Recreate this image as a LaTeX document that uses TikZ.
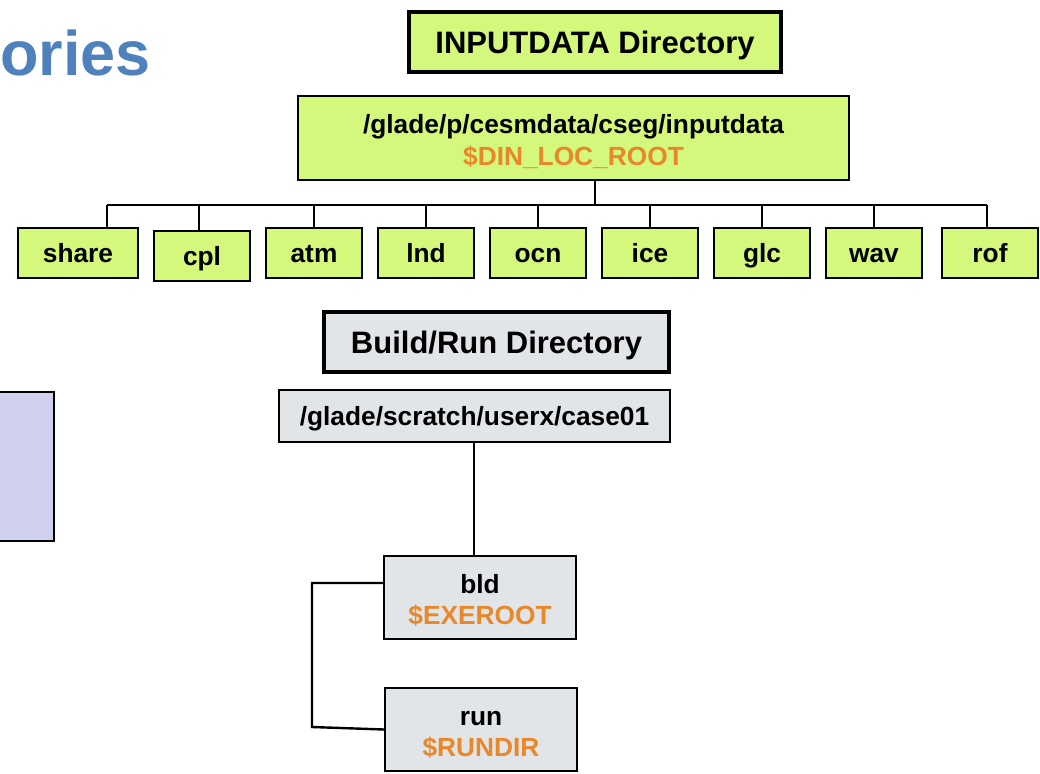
\documentclass[tikz,border=0pt]{standalone}
\usepackage{fontspec}
\setmainfont{Liberation Sans}
\begin{document}
\begin{tikzpicture}[x=1pt,y=-1pt,
  every node/.style={font=\bfseries},
  title/.style={draw=black,line width=4pt,minimum height=60pt,inner sep=0pt,text depth=0pt,font=\fontsize{31}{37}\selectfont\bfseries},
  pathbox/.style={draw=black,line width=2.2pt,inner sep=0pt,align=center,font=\fontsize{26.3}{31.5}\selectfont\bfseries},
  twoline/.style={pathbox,text height=54pt,text depth=0pt},
  sub/.style={draw=black,line width=2.2pt,minimum width=96pt,minimum height=50pt,inner sep=0pt,fill=leaf,text height=19pt,text depth=0pt,font=\fontsize{26.3}{31}\selectfont\bfseries},
  wire/.style={draw=black,line width=2.4pt}]
\definecolor{leaf}{HTML}{D4F87C}
\definecolor{ash}{HTML}{E2E5E7}
\definecolor{amber}{HTML}{E8882A}
\definecolor{steel}{HTML}{4F81BD}
\definecolor{lilac}{HTML}{D0D1EF}
\useasboundingbox (0,0) rectangle (1040,773);

% heading fragment at the top left
\node[anchor=base west,inner sep=0pt,text=steel,font=\fontsize{63}{72}\selectfont\bfseries] (head) at (0,76) {ories};

% panel partly outside the left edge
\draw[fill=lilac,line width=2pt] (-10,392) rectangle (54,541);

% input data tree
\node[title,fill=leaf,minimum width=372pt] (indir) at (595,42) {INPUTDATA Directory};
\node[twoline,fill=leaf,minimum width=551pt,minimum height=84pt] (inroot) at (573.5,138)
  {/glade/p/cesmdata/cseg/inputdata\\\textcolor{amber}{\$DIN\_LOC\_ROOT}};

\node[sub,minimum width=120pt] (share) at (78,253) {share};
\node[sub] (cpl) at (202,256) {cpl};
\node[sub] (atm) at (314,253) {atm};
\node[sub] (lnd) at (426,253) {lnd};
\node[sub] (ocn) at (538,253) {ocn};
\node[sub] (ice) at (650,253) {ice};
\node[sub] (glc) at (762,253) {glc};
\node[sub] (wav) at (874,253) {wav};
\node[sub] (rof) at (990,253) {rof};

\coordinate (busL) at (107,205);
\coordinate (busR) at (987,205);
\coordinate (busJ) at (595,205);
\draw[wire] (busL) -- (busR);
\draw[wire] (busJ |- inroot.south) -- (busJ);
\draw[wire] (busL) -- (busL |- share.north);
\foreach \n/\x in {cpl/199,atm/314,lnd/426,ocn/538,ice/650,glc/762,wav/874}
  \draw[wire] (\x,205) -- (\n.north -| \x,0);
\draw[wire] (busR) -- (busR |- rof.north);

% build and run tree
\node[title,fill=ash,minimum width=345pt] (rundir) at (496.5,342) {Build/Run Directory};
\node[pathbox,fill=ash,minimum width=391pt,minimum height=52pt,text depth=0pt] (caseroot) at (474.5,416)
  {/glade/scratch/userx/case01};
\node[twoline,fill=ash,minimum width=192pt,minimum height=83pt] (bld) at (480,597.5)
  {bld\\\textcolor{amber}{\$EXEROOT}};
\node[twoline,fill=ash,minimum width=192pt,minimum height=83pt] (run) at (481,729.5)
  {run\\\textcolor{amber}{\$RUNDIR}};

\coordinate (bend) at (312,583);
\draw[wire] (474,0 |- caseroot.south) -- (474,0 |- bld.north);
\draw[wire] (bld.west |- bend) -- (bend) -- (312,727) -- (run.west);
\end{tikzpicture}
\end{document}
